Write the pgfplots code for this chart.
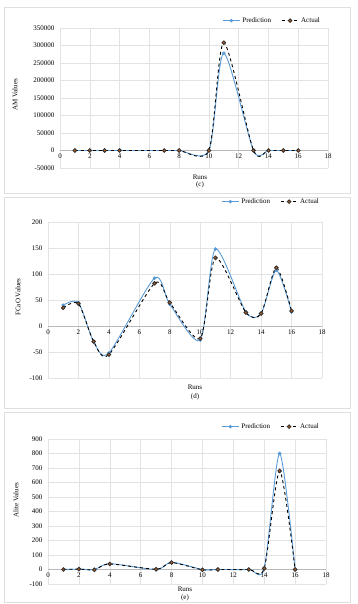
\documentclass[border=0pt]{standalone}
\usepackage{fontspec}
\setmainfont{Liberation Serif}
\usepackage{pgfplots}
\pgfplotsset{compat=1.18}
\definecolor{pred}{RGB}{91,155,213}
\definecolor{act}{RGB}{197,90,17}
\pgfplotsset{
 panel/.style={
  scale only axis,
  xmin=0,xmax=18, xtick={0,2,4,6,8,10,12,14,16,18},
  axis x line*=middle, axis y line*=left,
  hide obscured x ticks=false, hide obscured y ticks=false,
  x axis line style={draw=gray!55,-},
  y axis line style={draw=none},
  grid=major, major grid style={draw=gray!22, line width=0.5pt},
  tick style={draw=none},
  tick label style={font=\fontsize{7}{8}\selectfont},
  /pgf/number format/assume math mode=true,
  scaled y ticks=false,
  yticklabel style={/pgf/number format/fixed, /pgf/number format/1000 sep={}, xshift=-2pt},
  legend columns=2,
  legend style={draw=none, fill=none, font=\fontsize{7}{8}\selectfont, inner sep=1pt,
    /tikz/every even column/.append style={column sep=8pt}},
  legend cell align=left,
  clip=false,
 },
 predstyle/.style={color=pred, line width=0.9pt, smooth, tension=0.45, mark=*, mark size=1.3pt, mark options={fill=pred, draw=pred}},
 actstyle/.style={black, dashed, line width=0.9pt, smooth, tension=0.45, mark=*, mark size=1.8pt, mark options={solid, fill=act, draw=black!80}},
}
\begin{document}
\begin{tikzpicture}
\useasboundingbox (0,0) rectangle (358pt,604pt);
\draw[gray!25, line width=0.8pt] (4pt,411pt) rectangle (350pt,597pt);
\draw[gray!25, line width=0.8pt] (4pt,196pt) rectangle (350pt,407pt);
\draw[gray!25, line width=0.8pt] (4pt,2pt) rectangle (350pt,192pt);

% (c) AM
\begin{axis}[panel, at={(60pt,436pt)}, anchor=south west, width=268pt, height=140pt,
  ymin=-50000, ymax=350000, ytick={-50000,0,50000,100000,150000,200000,250000,300000,350000},
  legend style={at={(1,1)}, anchor=south east, xshift=-5pt, yshift=1pt}]
\addplot[predstyle] coordinates {(1,0)(2,0)(3,0)(4,0)(7,0)(8,0)(10,0)(11,278000)(13,0)(14,0)(15,0)(16,0)};
\addplot[actstyle] coordinates {(1,0)(2,0)(3,0)(4,0)(7,0)(8,0)(10,0)(11,308000)(13,0)(14,0)(15,0)(16,0)};
\legend{Prediction, Actual}
\end{axis}
\node[rotate=90, font=\fontsize{7}{8}\selectfont] at (15pt,509pt) {AM Values};
\node[font=\fontsize{7}{8}\selectfont] at (200pt,427pt) {Runs};
\node[font=\fontsize{7}{8}\selectfont] at (200pt,419pt) {(c)};

% (d) FCaO
\begin{axis}[panel, at={(48pt,226pt)}, anchor=south west, width=274pt, height=156pt,
  ymin=-100, ymax=200, ytick={-100,-50,0,50,100,150,200},
  legend style={at={(1,1)}, anchor=south east, xshift=0pt, yshift=14pt}]
\addplot[predstyle] coordinates {(1,40)(2,45)(3,-30)(4,-52)(7,92)(8,42)(10,-27)(11,148)(13,27)(14,24)(15,107)(16,27)};
\addplot[actstyle] coordinates {(1,35)(2,43)(3,-30)(4,-55)(7,82)(8,45)(10,-24)(11,131)(13,26)(14,24)(15,112)(16,29)};
\legend{Prediction, Actual}
\end{axis}
\node[rotate=90, font=\fontsize{7}{8}\selectfont] at (18pt,307pt) {FCaO Values};
\node[font=\fontsize{7}{8}\selectfont] at (195pt,217pt) {Runs};
\node[font=\fontsize{7}{8}\selectfont] at (195pt,207pt) {(d)};

% (e) Alite
\begin{axis}[panel, at={(48pt,20pt)}, anchor=south west, width=278pt, height=145pt,
  ymin=-100, ymax=900, ytick={-100,0,100,200,300,400,500,600,700,800,900},
  legend style={at={(1,1)}, anchor=south east, xshift=-4pt, yshift=6pt}]
\addplot[predstyle] coordinates {(1,0)(2,2)(3,0)(4,40)(7,0)(8,50)(10,0)(11,0)(13,0)(14,10)(15,800)(16,0)};
\addplot[actstyle] coordinates {(1,0)(2,3)(3,-2)(4,38)(7,2)(8,48)(10,-2)(11,0)(13,0)(14,8)(15,680)(16,0)};
\legend{Prediction, Actual}
\end{axis}
\node[rotate=90, font=\fontsize{7}{8}\selectfont] at (16pt,104pt) {Alite Values};
\node[font=\fontsize{7}{8}\selectfont] at (185pt,15pt) {Runs};
\node[font=\fontsize{7}{8}\selectfont] at (185pt,6pt) {(e)};
\end{tikzpicture}
\end{document}
